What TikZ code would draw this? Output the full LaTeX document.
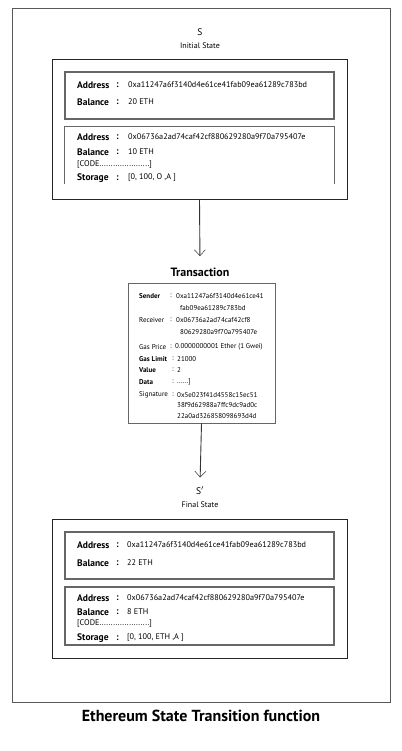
\documentclass[tikz,border=0pt]{standalone}
\usepackage{fontspec}
\setmainfont{PT Sans}
\usetikzlibrary{calc, shapes, arrows.meta}

\begin{document}
\begin{tikzpicture}[x=1pt,y=-1pt,
	framebox/.style={draw=black!65, line width=0.9pt, minimum width=378pt, minimum height=694pt, inner sep=0pt},
	statebox/.style={draw=black!85, line width=0.8pt, minimum width=295pt, minimum height=140pt, inner sep=0pt},
	accbox/.style={draw=black!60, line width=1.3pt, minimum width=269pt, inner sep=0pt},
	txbox/.style={draw=black!60, line width=0.9pt, minimum width=147pt, minimum height=140pt, inner sep=0pt},
	field/.style={anchor=west, inner sep=0pt},
	flow/.style={draw=black!80, line width=0.9pt, -{Straight Barb[length=6pt,width=11pt,line width=0.5pt]}}]
				\newcommand{\myfontkey}[1]{
					\fontsize{9.5}{11}\selectfont\textbf{#1}
				}\newcommand{\myfontval}[1]{
					\fontsize{8.2}{9}\selectfont{#1}
				}\newcommand{\myfonttx}[1]{
					\fontsize{7}{8}\selectfont{#1}
				}%Page size
				\useasboundingbox (0,0) rectangle (401,751);
				%Outer frame
				\node (frame) [framebox] at (201,355) {};
				%Initial state heading
				\node (s) at (200,32) {\fontsize{9.5}{11}\selectfont S};
				\node (sname) at (200,46) {\fontsize{8}{9}\selectfont Initial State};
				%Initial state boxes
				\node (init) [statebox] at (199.5,129) {};
				\node (acc1) [accbox, minimum height=47pt] at (199.5,95.5) {};
				\node (acc2) [minimum width=269pt, minimum height=57pt, inner sep=0pt] at (199.5,155.5) {};
				\draw [draw=black!60, line width=1.3pt] (acc2.south west) -- (acc2.north west) -- (acc2.north east) -- (acc2.south east);
				%Initial state accounts
				\node (a1key) [field] at (77,85) {\myfontkey{Address}};
				\node [field] at (116,85) {\myfontkey{:}};
				\node (a1val) [field] at (128,85) {\myfontval{0xa11247a6f3140d4e61ce41fab09ea61289c783bd}};
				\node (b1key) [field] at (77,102) {\myfontkey{Balance}};
				\node [field] at (116,102) {\myfontkey{:}};
				\node (b1val) [field] at (128,102) {\myfontval{20 ETH}};
				\node (a2key) [field] at (77,137) {\myfontkey{Address}};
				\node [field] at (116,137) {\myfontkey{:}};
				\node (a2val) [field] at (128,137) {\myfontval{0x06736a2ad74caf42cf880629280a9f70a795407e}};
				\node (b2key) [field] at (77,152) {\myfontkey{Balance}};
				\node [field] at (116,152) {\myfontkey{:}};
				\node (b2val) [field] at (128,152) {\myfontval{10 ETH}};
				\node (c2) [field] at (77,165) {\myfontval{[CODE......................]}};
				\node (st2key) [field] at (77,178) {\myfontkey{Storage}};
				\node [field] at (116,178) {\myfontkey{:}};
				\node (st2val) [field] at (128,178) {\myfontval{[0, 100, O ,A ]}};
				%Transaction heading and box
				\node (txtitle) at (200,272) {\fontsize{12}{14}\selectfont\textbf{Transaction}};
				\node (tx) [txbox] at (201.5,353) {};
				%Transaction fields
				\node (sender) [field] at (139,296) {\myfonttx{\textbf{Sender}}};
				\node [field] at (170,296) {\myfonttx{:}};
				\node [field] at (176,296) {\myfonttx{0xa11247a6f3140d4e61ce41}};
				\node [field] at (180,308) {\myfonttx{fab09ea61289c783bd}};
				\node (receiver) [field] at (139,320) {\myfonttx{Receiver}};
				\node [field] at (170,320) {\myfonttx{:}};
				\node [field] at (176,320) {\myfonttx{0x06736a2ad74caf42cf8}};
				\node [field] at (180,332) {\myfonttx{80629280a9f70a795407e}};
				\node (gasprice) [field] at (139,347) {\myfonttx{Gas Price}};
				\node [field] at (170,347) {\myfonttx{:}};
				\node [field] at (175,347) {\myfonttx{0.0000000001 Ether (1 Gwei)}};
				\node (gaslimit) [field] at (139,359) {\myfonttx{\textbf{Gas Limit}}};
				\node [field] at (172,359) {\myfonttx{:}};
				\node [field] at (177,359) {\myfonttx{21000}};
				\node (value) [field] at (139,370) {\myfonttx{\textbf{Value}}};
				\node [field] at (172,370) {\myfonttx{:}};
				\node [field] at (177,370) {\myfonttx{2}};
				\node (data) [field] at (139,382) {\myfonttx{\textbf{Data}}};
				\node [field] at (172,382) {\myfonttx{:}};
				\node [field] at (177,382) {\myfonttx{......]}};
				\node (signature) [field] at (139,395) {\myfonttx{Signature}};
				\node [field] at (172,395) {\myfonttx{:}};
				\node [field] at (177,395) {\myfonttx{0x5e023f41d4558c15ec51}};
				\node [field] at (177,405) {\myfonttx{38f9d62988a7ffc9dc9ad0c}};
				\node [field] at (177,416) {\myfonttx{22a0ad326858098693d4d}};
				%Final state heading
				\node (sp) at (200,491) {\fontsize{9.5}{11}\selectfont S$'$};
				\node (spname) at (200,505) {\fontsize{8}{9}\selectfont Final State};
				%Final state boxes
				\node (final) [statebox, minimum height=139pt] at (199.5,588.5) {};
				\node (acc3) [accbox, minimum height=47pt] at (199.5,555.5) {};
				\node (acc4) [accbox, minimum height=58pt] at (199.5,616) {};
				%Final state accounts
				\node (a3key) [field] at (77,545) {\myfontkey{Address}};
				\node [field] at (116,545) {\myfontkey{:}};
				\node (a3val) [field] at (127,545) {\myfontval{0xa11247a6f3140d4e61ce41fab09ea61289c783bd}};
				\node (b3key) [field] at (77,563) {\myfontkey{Balance}};
				\node [field] at (116,563) {\myfontkey{:}};
				\node (b3val) [field] at (127,563) {\myfontval{22 ETH}};
				\node (a4key) [field] at (77,598) {\myfontkey{Address}};
				\node [field] at (116,598) {\myfontkey{:}};
				\node (a4val) [field] at (127,598) {\myfontval{0x06736a2ad74caf42cf880629280a9f70a795407e}};
				\node (b4key) [field] at (77,612) {\myfontkey{Balance}};
				\node [field] at (116,612) {\myfontkey{:}};
				\node (b4val) [field] at (127,612) {\myfontval{8 ETH}};
				\node (c4) [field] at (77,624) {\myfontval{[CODE......................]}};
				\node (st4key) [field] at (77,638) {\myfontkey{Storage}};
				\node [field] at (116,638) {\myfontkey{:}};
				\node (st4val) [field] at (127,638) {\myfontval{[0, 100, ETH ,A ]}};
				%Arrows
				\draw [flow, shorten >=8pt] (init.south) -- (txtitle.north);
				\draw [flow, shorten >=6pt] (tx.south) -- (sp.north);
				%Caption
				\node (caption) at (201,716) {\fontsize{16}{19}\selectfont\textbf{Ethereum State Transition function}};
\end{tikzpicture}
\end{document}
